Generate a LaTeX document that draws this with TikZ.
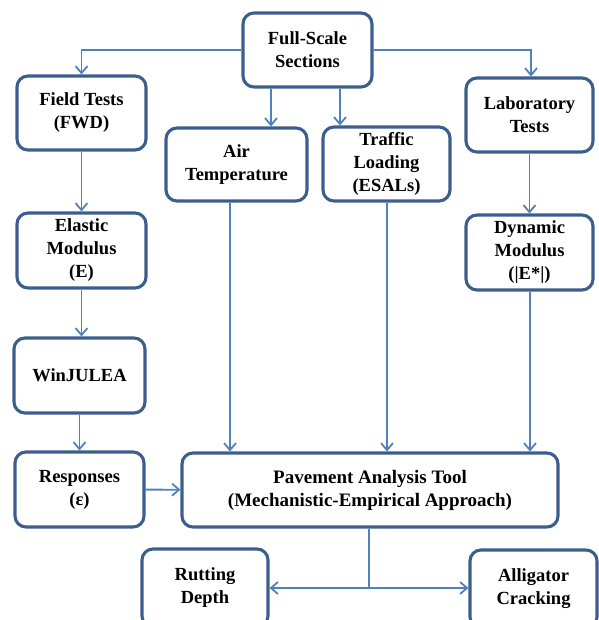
\documentclass[tikz,border=0pt]{standalone}
\usepackage{fontspec}
\setmainfont{Liberation Serif}
\usetikzlibrary{arrows.meta}
\definecolor{boxblue}{RGB}{60,94,140}
\definecolor{linkblue}{RGB}{79,129,189}
\begin{document}
\begin{tikzpicture}[x=1pt,y=-1pt,
        box/.style={draw=boxblue, line width=3.1pt, rounded corners=11pt, fill=white,
            align=center, inner sep=2pt, font=\fontsize{18.5}{23}\selectfont\bfseries},
        arr/.style={draw=linkblue, line width=1.8pt, -{Straight Barb[length=7pt,width=12pt]}},
        link/.style={draw=linkblue, line width=1.8pt}]
        \useasboundingbox (0,0) rectangle (598,620);
        % boxes
        \node[box, minimum width=129pt, minimum height=74pt] (sec) at (307.5,50) {Full-Scale\\Sections};
        \node[box, minimum width=129pt, minimum height=74pt] (fwd) at (81.5,113) {Field Tests\\(FWD)};
        \node[box, minimum width=127pt, minimum height=74pt] (lab) at (529.5,115) {Laboratory\\Tests};
        \node[box, minimum width=141pt, minimum height=73pt] (air) at (236.5,164.5) {Air\\Temperature};
        \node[box, minimum width=127pt, minimum height=74pt] (esal) at (386.5,164) {Traffic\\Loading\\(ESALs)};
        \node[box, minimum width=129pt, minimum height=75pt] (emod) at (81.5,250.5) {Elastic\\Modulus\\(E)};
        \node[box, minimum width=127pt, minimum height=75pt] (dmod) at (529.5,252.5) {Dynamic\\Modulus\\(|E*|)};
        \node[box, minimum width=131pt, minimum height=75pt] (jul) at (79.5,375.5) {WinJULEA};
        \node[box, minimum width=129pt, minimum height=75pt] (resp) at (79.5,489.5) {Responses\\(ε)};
        \node[box, minimum width=376pt, minimum height=74pt, font=\fontsize{19}{23}\selectfont\bfseries] (pat) at (370,490)
            {Pavement Analysis Tool\\(Mechanistic-Empirical Approach)};
        \node[box, minimum width=126pt, minimum height=78pt] (rut) at (205,588) {Rutting\\Depth};
        \node[box, minimum width=127pt, minimum height=78pt] (alc) at (533.5,589) {Alligator\\Cracking};
        % links
        \draw[arr] (sec.west) -| (fwd.north);
        \draw[arr] (sec.east) -| ([xshift=1.5pt]lab.north);
        \draw[arr] ([xshift=-36.5pt]sec.south) -- ([xshift=-36.5pt]sec.south |- air.north);
        \draw[arr] ([xshift=32.5pt]sec.south) -- ([xshift=32.5pt]sec.south |- esal.north);
        \draw[arr] (fwd) -- (emod);
        \draw[arr] (emod.south) -- (emod.south |- jul.north);
        \draw[arr] (lab) -- (dmod);
        \draw[arr] (jul) -- (resp);
        \draw[arr] (resp) -- (pat);
        \draw[arr] ([xshift=-6.5pt]air.south) -- ([xshift=-6.5pt]air.south |- pat.north);
        \draw[arr] ([xshift=0.5pt]esal.south) -- ([xshift=0.5pt]esal.south |- pat.north);
        \draw[arr] ([xshift=0.5pt]dmod.south) -- ([xshift=0.5pt]dmod.south |- pat.north);
        \coordinate (fork) at ([xshift=-1pt]pat.south |- rut);
        \draw[link] ([xshift=-1pt]pat.south) -- (fork);
        \draw[arr] (fork) -- (rut);
        \draw[arr] (fork) -- (fork -| alc.west);
\end{tikzpicture}
\end{document}
